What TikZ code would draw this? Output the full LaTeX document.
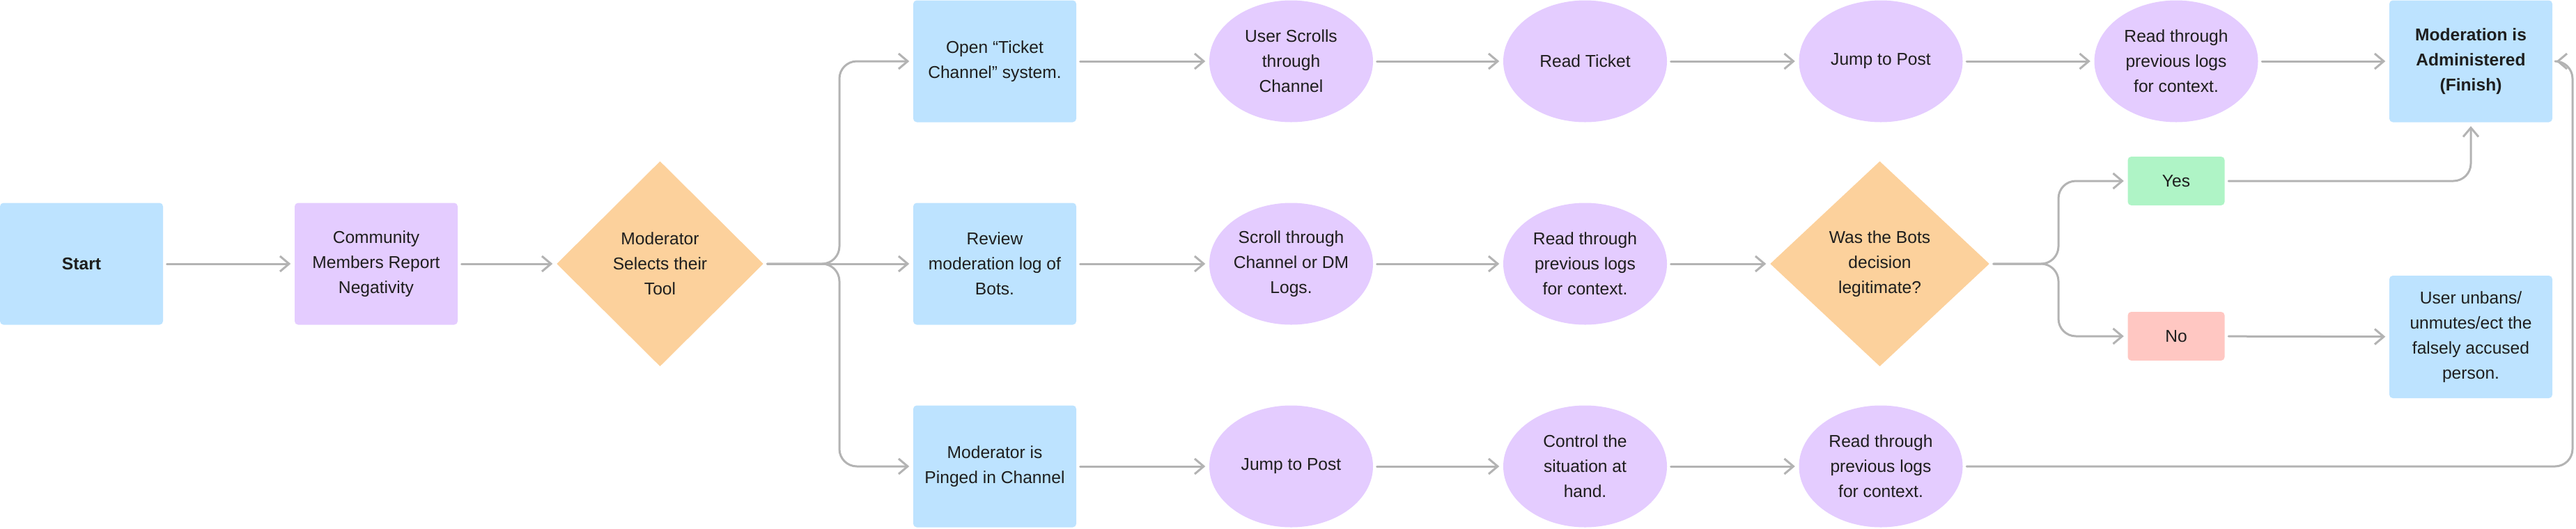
\documentclass[tikz,border=0pt]{standalone}
\usepackage{fontspec}
\setmainfont{Liberation Sans}
\usepackage{xcolor}
\usetikzlibrary{arrows.meta,shapes.geometric}

\definecolor{sky}{HTML}{BDE3FF}
\definecolor{lilac}{HTML}{E4CCFF}
\definecolor{peach}{HTML}{FCD19C}
\definecolor{mint}{HTML}{AFF4C6}
\definecolor{rose}{HTML}{FFC7C2}
\definecolor{wire}{HTML}{B3B3B3}
\definecolor{ink}{HTML}{1E1E1E}

\begin{document}
\begin{tikzpicture}[>={Straight Barb[length=1.3mm,width=2.2mm]}, line cap=round, line join=round,
		font={\fontsize{7}{10.25}\selectfont}, text=ink,
		box/.style={rectangle, rounded corners=0.5mm, minimum width=2.34cm, minimum height=1.75cm, inner sep=0pt, align=center},
		oval/.style={ellipse, fill=lilac, minimum width=2.35cm, minimum height=1.75cm, inner xsep=-2mm, inner ysep=0pt, align=center},
		choice/.style={diamond, fill=peach, minimum height=2.95cm, inner sep=0pt, align=center},
		tag/.style={rectangle, rounded corners=0.5mm, minimum width=1.39cm, minimum height=0.70cm, inner sep=0pt},
		bold/.style={font={\fontsize{7}{10.25}\selectfont\bfseries}},
		flow/.style={->, draw=wire, line width=0.3mm, shorten <=0.5mm, shorten >=0.5mm, rounded corners=2.5mm}]
		\useasboundingbox (0,0) rectangle (36.98,-7.59);

		\node[box, fill=sky, bold] (start) at (1.17,-3.79) {Start};
		\node[box, fill=lilac] (report) at (5.40,-3.79) {Community\\Members Report\\Negativity};
		\node[choice, minimum width=2.97cm] (sel) at (9.475,-3.79) {Moderator\\Selects their\\Tool};

		\node[box, fill=sky] (ticket) at (14.28,-0.88) {Open “Ticket\\Channel” system.};
		\node[box, fill=sky] (review) at (14.28,-3.79) {Review\\moderation log of\\Bots.};
		\node[box, fill=sky] (pinged) at (14.28,-6.70) {Moderator is\\Pinged in Channel};

		\node[oval] (scrollu) at (18.535,-0.88) {User Scrolls\\through\\Channel};
		\node[oval] (scrolld) at (18.535,-3.79) {Scroll through\\Channel or DM\\Logs.};
		\node[oval] (jumpa) at (18.535,-6.70) {Jump to Post};

		\node[oval] (readt) at (22.755,-0.88) {Read Ticket};
		\node[oval] (readb) at (22.755,-3.79) {Read through\\previous logs\\for context.};
		\node[oval] (control) at (22.755,-6.70) {Control the\\situation at\\hand.};

		\node[oval] (jumpb) at (27.00,-0.88) {Jump to Post};
		\node[choice, minimum width=3.15cm] (bots) at (26.985,-3.79) {Was the Bots\\decision\\legitimate?};
		\node[oval] (readc) at (27.00,-6.70) {Read through\\previous logs\\for context.};

		\node[oval] (reada) at (31.24,-0.88) {Read through\\previous logs\\for context.};
		\node[tag, fill=mint] (yes) at (31.24,-2.60) {Yes};
		\node[tag, fill=rose] (no) at (31.24,-4.83) {No};

		\node[box, fill=sky, bold] (finish) at (35.47,-0.88) {Moderation is\\Administered\\(Finish)};
		\node[box, fill=sky, minimum height=1.76cm] (unban) at (35.47,-4.84) {User unbans/\\unmutes/ect the\\falsely accused\\person.};

		\coordinate (fork1) at (12.05,-3.79);
		\coordinate (fork2) at (29.55,-3.79);
		\coordinate (back) at (36.93,-6.70);

		\draw[flow] (start) -- (report);
		\draw[flow] (report) -- (sel);
		\draw[flow] (sel) -- (review);
		\draw[flow] (sel.east) -- (fork1) |- (ticket);
		\draw[flow] (sel.east) -- (fork1) |- (pinged);

		\draw[flow] (ticket) -- (scrollu);
		\draw[flow] (scrollu) -- (readt);
		\draw[flow] (readt) -- (jumpb);
		\draw[flow] (jumpb) -- (reada);
		\draw[flow] (reada) -- (finish);

		\draw[flow] (review) -- (scrolld);
		\draw[flow] (scrolld) -- (readb);
		\draw[flow] (readb) -- (bots);
		\draw[flow] (bots.east) -- (fork2) |- (yes);
		\draw[flow] (bots.east) -- (fork2) |- (no);
		\draw[flow] (yes) -| (finish);
		\draw[flow] (no) -- (unban);

		\draw[flow] (pinged) -- (jumpa);
		\draw[flow] (jumpa) -- (control);
		\draw[flow] (control) -- (readc);
		\draw[flow] (readc) -- (back) |- (finish);
	\end{tikzpicture}
\end{document}
